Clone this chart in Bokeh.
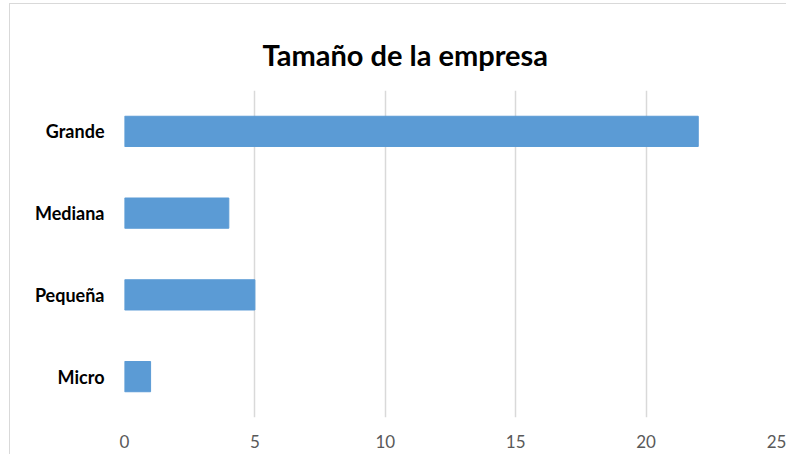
from bokeh.plotting import figure
from bokeh.models import FactorRange, Range1d, ColumnDataSource, FixedTicker, Title
from bokeh.embed import file_html
from bokeh.resources import INLINE

categories = ["Micro", "Pequeña", "Mediana", "Grande"]
values = [1, 5, 4, 22]
x_ticks = [0, 5, 10, 15, 20, 25]
title_text = "Tamaño de la empresa"

src = ColumnDataSource(dict(cat=categories, val=values))

p = figure(width=777, height=451, output_backend="svg", toolbar_location=None,
           y_range=FactorRange(factors=categories, range_padding=0),
           x_range=Range1d(0, 25),
           min_border_left=114, min_border_right=11, min_border_top=86, min_border_bottom=38,
           styles={"border-left": "1px solid #d9d9d9", "border-top": "1px solid #d9d9d9",
                   "margin-left": "9px", "margin-top": "3px"})

p.hbar(y="cat", right="val", left=0, height=0.37, source=src, color="#5b9bd5")

t = Title(text=title_text, align="left", offset=138, vertical_align="top",
          text_font="Lato", text_font_size="29px", text_font_style="bold",
          text_color="#000000", standoff=33)
p.add_layout(t, "above")

p.outline_line_color = None
p.ygrid.grid_line_color = None
p.xgrid.grid_line_color = "#d9d9d9"
p.xgrid.grid_line_width = 1.5
p.xaxis.ticker = FixedTicker(ticks=x_ticks)

for ax in (p.xaxis, p.yaxis):
    ax.axis_line_color = None
    ax.major_tick_line_color = None
    ax.minor_tick_line_color = None
    ax.major_label_text_font = "Lato"

p.xaxis.major_label_text_font_size = "17px"
p.xaxis.major_label_text_color = "#595959"
p.xaxis.major_label_standoff = 11
p.yaxis.major_label_text_font_size = "18px"
p.yaxis.major_label_text_color = "#000000"
p.yaxis.major_label_text_font_style = "bold"
p.yaxis.major_label_standoff = 14

open("out.html", "w").write(file_html(p, INLINE))
